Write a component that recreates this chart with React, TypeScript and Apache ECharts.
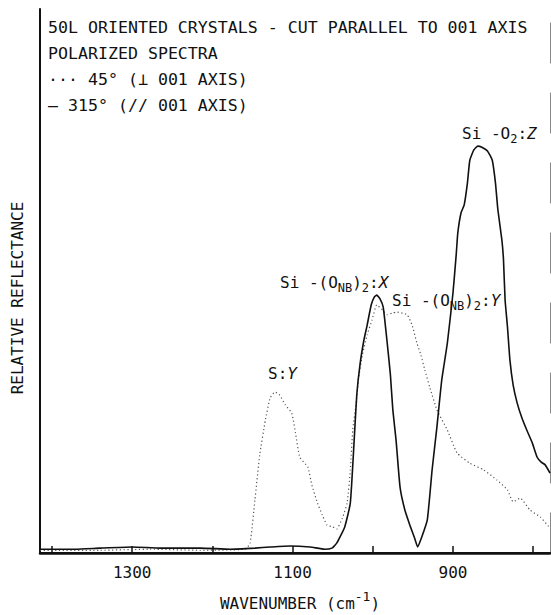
import React, { useEffect, useRef } from "react";
import * as echarts from "echarts";

// Wavenumber (cm^-1) and relative reflectance (0-100, arbitrary)
const solid315: [number, number][] = [
  [1415, 0.7], [1371, 0.7], [1340, 0.9], [1300, 1.1], [1265, 0.9], [1215, 0.9],
  [1178, 0.7], [1147, 0.9], [1128, 1.1], [1103, 1.3], [1078, 1.1], [1060, 0.7],
  [1051, 0.9], [1045, 1.8], [1035, 4.8], [1028, 9.2], [1023, 21.3], [1020, 29.0],
  [1016, 34.6], [1011, 39.2], [1007, 41.9], [1002, 45.6], [998, 47.1], [995, 47.4],
  [991, 46.7], [987, 45.2], [982, 38.6], [978, 32.7], [975, 26.3], [971, 20.8],
  [966, 12.1], [960, 7.9], [953, 4.8], [948, 2.8], [944, 1.1], [939, 2.9],
  [932, 6.1], [926, 15.3], [920, 23.2], [914, 31.8], [907, 38.6], [900, 47.8],
  [896, 54.8], [894, 58.8], [890, 62.5], [886, 64.0], [882, 68.0], [879, 72.2],
  [874, 74.1], [869, 74.8], [864, 74.6], [857, 73.9], [851, 72.2], [847, 68.0],
  [844, 63.1], [839, 57.5], [837, 53.9], [835, 46.5], [832, 41.5], [829, 35.5],
  [825, 30.9], [820, 27.6], [814, 24.8], [808, 22.6], [801, 20.2], [795, 17.6],
  [790, 16.7], [785, 16.2], [779, 14.7],
];

const dotted45: [number, number][] = [
  [1415, 0.5], [1340, 0.5], [1278, 0.7], [1215, 0.5], [1159, 0.7], [1153, 1.8],
  [1147, 9.7], [1141, 18.0], [1134, 24.4], [1128, 28.5], [1122, 29.6], [1116, 29.0],
  [1109, 27.2], [1101, 25.7], [1096, 21.7], [1091, 17.6], [1081, 15.8], [1076, 12.5],
  [1069, 9.2], [1063, 7.0], [1057, 5.1], [1050, 4.8], [1045, 4.4], [1038, 6.4],
  [1032, 9.2], [1028, 15.3], [1025, 22.6], [1021, 27.2], [1018, 31.8], [1013, 36.4],
  [1007, 40.1], [1001, 42.8], [995, 45.6], [988, 44.7], [982, 43.8], [976, 44.1],
  [970, 44.3], [963, 44.1], [957, 43.8], [951, 41.9], [945, 38.6], [940, 36.4],
  [935, 33.6], [929, 30.5], [920, 26.3], [907, 22.6], [895, 18.4], [879, 16.5],
  [862, 15.3], [845, 13.4], [832, 11.6], [825, 9.4], [816, 10.1], [804, 7.9],
  [791, 6.6], [779, 4.6],
];

const xTicks = [1400, 1300, 1200, 1100, 1000, 900, 800];
const xLabels = [1300, 1100, 900];

const titleLines = [
  "50L ORIENTED CRYSTALS - CUT PARALLEL TO 001 AXIS",
  "POLARIZED SPECTRA",
  "··· 45° (⊥ 001 AXIS)",
  "— 315° (// 001 AXIS)",
];

// segment kinds: n = normal, s = subscript, u = superscript, i = italic
const peakLabels: { x: number; y: number; segs: [string, string][] }[] = [
  { x: 462, y: 133, segs: [["n", "Si -O"], ["s", "2"], ["n", ":"], ["i", "Z"]] },
  { x: 280, y: 282, segs: [["n", "Si -(O"], ["s", "NB"], ["n", ")"], ["s", "2"], ["n", ":"], ["i", "X"]] },
  { x: 392, y: 300, segs: [["n", "Si -(O"], ["s", "NB"], ["n", ")"], ["s", "2"], ["n", ":"], ["i", "Y"]] },
  { x: 268, y: 373, segs: [["n", "S:"], ["i", "Y"]] },
];

const FONT = "'DejaVu Sans Mono', monospace";
const INK = "#111";
const MAIN = 16;
const SMALL = 12;
const CW = 0.602; // monospace advance per em

function segElements(x0: number, y: number, segs: [string, string][]) {
  const out: any[] = [];
  let x = x0;
  for (const [k, t] of segs) {
    const size = k === "s" || k === "u" ? (k === "u" ? 13 : SMALL) : MAIN;
    const dy = k === "s" ? 6 : k === "u" ? -7 : 0;
    out.push({
      type: "text",
      x,
      y: y + dy,
      style: {
        text: t, fontFamily: FONT, fontSize: size, fill: INK,
        fontStyle: k === "i" ? "italic" : "normal",
        align: "left", verticalAlign: "middle",
      },
    });
    x += t.length * size * CW;
  }
  return out;
}

export default function App() {
  const ref = useRef<HTMLDivElement>(null);
  useEffect(() => {
    if (!ref.current) return;
    const chart = echarts.init(ref.current, null, { renderer: "svg" });
    let graphics: any[] = titleLines.map((t, k) => ({
      type: "text",
      x: 48,
      y: 27 + k * 26,
      style: { text: t, fontFamily: FONT, fontSize: 16.6, fill: INK, verticalAlign: "middle" },
    }));
    for (const p of peakLabels) graphics = graphics.concat(segElements(p.x, p.y, p.segs));
    // x-axis title with superscript
    const axisSegs: [string, string][] = [["n", "WAVENUMBER (cm"], ["u", "-1"], ["n", ")"]];
    const axisW = 15 * MAIN * CW + 2 * 13 * CW;
    graphics = graphics.concat(segElements(300 - axisW / 2, 603, axisSegs));
    graphics.push({
      type: "text", x: 17, y: 298, rotation: Math.PI / 2,
      style: { text: "RELATIVE REFLECTANCE", fontFamily: FONT, fontSize: 16, fill: INK, align: "center", verticalAlign: "middle" },
    });
    chart.setOption({
      animation: false,
      backgroundColor: "#fff",
      grid: { left: 40, right: 1, top: 9, bottom: 62 },
      xAxis: [
        {
          type: "value", inverse: true, min: 779, max: 1415,
          axisLine: { lineStyle: { color: INK, width: 2.5 } },
          axisTick: { show: true, inside: true, length: 7, customValues: xTicks, lineStyle: { color: INK, width: 1.5 } },
          axisLabel: {
            customValues: xLabels, margin: 11, color: INK, fontFamily: FONT, fontSize: 16,
            formatter: (v: number) => String(v),
          },
          splitLine: { show: false },
        },
        {
          type: "value", inverse: true, min: 779, max: 1415, position: "top",
          axisLine: { show: true, lineStyle: { color: INK, width: 2 } },
          axisTick: { show: false }, axisLabel: { show: false }, splitLine: { show: false },
        },
      ],
      yAxis: [
        {
          type: "value", min: 0, max: 100,
          axisLine: { show: true, lineStyle: { color: INK, width: 2 } },
          axisTick: { show: false }, axisLabel: { show: false }, splitLine: { show: false },
        },
        {
          type: "value", min: 0, max: 100, position: "right",
          axisLine: { show: true, lineStyle: { color: "#888", width: 1, type: [40, 30] } },
          axisTick: { show: false }, axisLabel: { show: false }, splitLine: { show: false },
        },
      ],
      series: [
        {
          type: "line", data: dotted45, showSymbol: false, smooth: 0.15,
          lineStyle: { color: "#555", width: 1.2, type: [1.2, 2.6] },
        },
        {
          type: "line", data: solid315, showSymbol: false, smooth: 0.15,
          lineStyle: { color: INK, width: 1.6 },
        },
      ],
      graphic: graphics,
    });
    return () => chart.dispose();
  }, []);
  return <div ref={ref} style={{ width: 551, height: 615, position: "absolute", left: 0, top: 0 }} />;
}
